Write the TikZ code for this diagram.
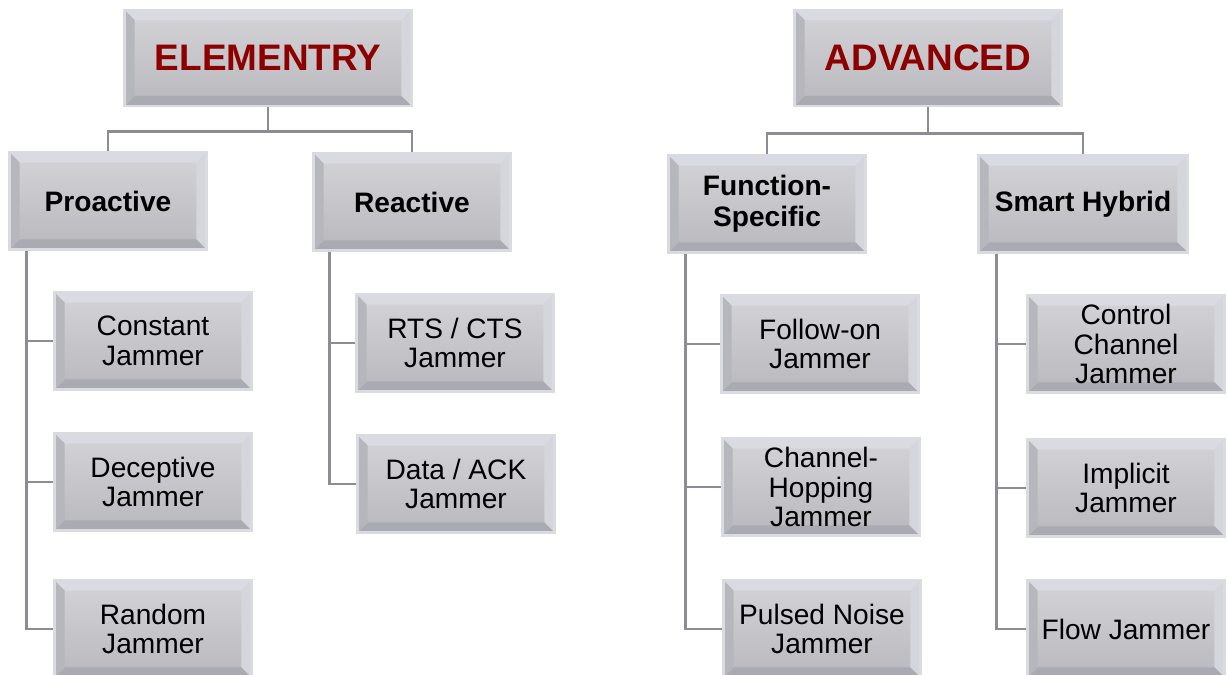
\documentclass[tikz,border=0pt]{standalone}
\usepackage{fontspec}
\setmainfont{Liberation Sans}
\usepackage{tikz}
\usetikzlibrary{positioning,calc}
\definecolor{jamface}{RGB}{200,200,206}
\definecolor{jamlight}{RGB}{218,218,226}
\definecolor{jamdark}{RGB}{170,170,178}
\definecolor{jamedge}{RGB}{218,218,225}
\definecolor{jamline}{RGB}{140,140,150}
\definecolor{jamred}{RGB}{140,0,0}

\begin{document}
\begin{tikzpicture}[
  x=0.02cm,y=-0.02cm,
  bev/.style={rectangle,draw=jamedge,line width=1.5pt,top color=jamface!80!white,bottom color=jamface!92!black,align=center,
    inner sep=2pt,
    path picture={
      \fill[jamlight] (path picture bounding box.north west) -- (path picture bounding box.north east)
        -- ([shift={(-0.2cm,-0.2cm)}]path picture bounding box.north east) -- ([shift={(0.2cm,-0.2cm)}]path picture bounding box.north west) -- cycle;
      \fill[jamlight!70!jamface] (path picture bounding box.north east) -- (path picture bounding box.south east)
        -- ([shift={(-0.2cm,0.2cm)}]path picture bounding box.south east) -- ([shift={(-0.2cm,-0.2cm)}]path picture bounding box.north east) -- cycle;
      \fill[jamdark] (path picture bounding box.south west) -- (path picture bounding box.south east)
        -- ([shift={(-0.2cm,0.2cm)}]path picture bounding box.south east) -- ([shift={(0.2cm,0.2cm)}]path picture bounding box.south west) -- cycle;
      \fill[jamdark!60!jamface] (path picture bounding box.north west) -- (path picture bounding box.south west)
        -- ([shift={(0.2cm,0.2cm)}]path picture bounding box.south west) -- ([shift={(0.2cm,-0.2cm)}]path picture bounding box.north west) -- cycle;
    }},
  root/.style={bev,font=\fontsize{21}{24}\selectfont\bfseries,text=jamred,minimum height=1.92cm},
  cat/.style={bev,font=\fontsize{16}{17.5}\selectfont\bfseries,minimum width=3.94cm,minimum height=1.94cm},
  leaf/.style={bev,font=\fontsize{16}{17}\selectfont,minimum width=3.94cm,minimum height=1.94cm},
  conn/.style={draw=jamline,line width=1.5pt}
]
\useasboundingbox (0,0) rectangle (1228,675);

% top level
\node[root,minimum width=5.74cm] (elem) at (268,58) {ELEMENTRY};
\node[root,minimum width=5.34cm] (adv) at (928,58) {ADVANCED};

% categories
\node[cat] (pro) at (108,201) {Proactive};
\node[cat] (rea) at (412,202) {Reactive};
\node[cat] (fun) at (767,204) {Function-\\Specific};
\node[cat,minimum width=4.18cm] (hyb) at (1083,204) {Smart Hybrid};

% jammers
\node[leaf] (con) at (153,341) {Constant\\Jammer};
\node[leaf] (dec) at (153,482) {Deceptive\\Jammer};
\node[leaf] (ran) at (153,629) {Random\\Jammer};
\node[leaf] (rts) at (455,343) {RTS / CTS\\Jammer};
\node[leaf] (ack) at (456,484) {Data / ACK\\Jammer};
\node[leaf] (fol) at (820,344) {Follow-on\\Jammer};
\node[leaf] (hop) at (821,487) {Channel-\\Hopping\\Jammer};
\node[leaf] (pul) at (822,629) {Pulsed Noise\\Jammer};
\node[leaf] (ctl) at (1126,344) {Control\\Channel\\Jammer};
\node[leaf] (imp) at (1126,488) {Implicit\\Jammer};
\node[leaf] (flo) at (1126,629) {Flow Jammer};

% connectors
\draw[conn] (elem.south) -- ++(0,24) -| (pro.north);
\draw[conn] (elem.south) -- ++(0,24) -| (rea.north);
\draw[conn] (adv.south) -- ++(0,26) -| (fun.north);
\draw[conn] (adv.south) -- ++(0,26) -| (hyb.north);

\foreach \c in {con,dec,ran}
  \draw[conn] ([xshift=0.36cm]pro.south west) |- (\c.west);
\foreach \c in {rts,ack}
  \draw[conn] ([xshift=0.34cm]rea.south west) |- (\c.west);
\foreach \c in {fol,hop,pul}
  \draw[conn] ([xshift=0.36cm]fun.south west) |- (\c.west);
\foreach \c in {ctl,imp,flo}
  \draw[conn] ([xshift=0.38cm]hyb.south west) |- (\c.west);
\end{tikzpicture}
\end{document}
